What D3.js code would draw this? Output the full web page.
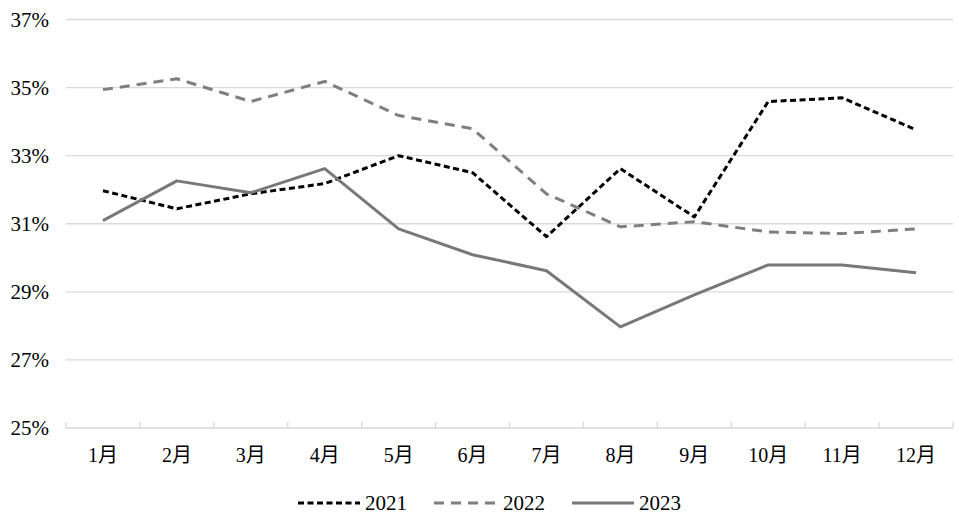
<!DOCTYPE html>
<html>
<head>
<meta charset="utf-8">
<script src="https://cdn.jsdelivr.net/npm/d3@7"></script>
<style>
  body { margin: 0; background: #fff; }
  svg text { font-family: "Liberation Serif", "Times New Roman", "Noto Sans CJK SC", serif; fill: #000; }
</style>
</head>
<body>
<svg id="chart" width="959" height="523"></svg>
<script>
const months = ["1月", "2月", "3月", "4月", "5月", "6月", "7月", "8月", "9月", "10月", "11月", "12月"];
const yTicks = [25, 27, 29, 31, 33, 35, 37];

const values2021 = [31.97, 31.44, 31.88, 32.18, 33.0, 32.5, 30.62, 32.62, 31.2, 34.59, 34.7, 33.76];
const values2022 = [34.94, 35.26, 34.59, 35.18, 34.18, 33.79, 31.88, 30.91, 31.06, 30.76, 30.71, 30.85];
const values2023 = [31.09, 32.26, 31.91, 32.62, 30.85, 30.09, 29.62, 27.97, 28.91, 29.79, 29.79, 29.56];

const seriesNames = ["2021", "2022", "2023"];

const series = [
  { name: seriesNames[0], values: values2021, color: "#000000", dash: "6,3.5" },
  { name: seriesNames[1], values: values2022, color: "#7f7f7f", dash: "10,7" },
  { name: seriesNames[2], values: values2023, color: "#787878", dash: null }
];

const svg = d3.select("#chart");
const plotLeft = 66, plotRight = 953, plotTop = 19.5, plotBottom = 428;

const x = d3.scaleBand().domain(months).range([plotLeft, plotRight]);
const y = d3.scaleLinear().domain([25, 37]).range([plotBottom, plotTop]);

// gridlines
svg.append("g")
  .selectAll("line")
  .data(yTicks.filter(t => t !== 25))
  .join("line")
  .attr("x1", plotLeft).attr("x2", plotRight)
  .attr("y1", d => y(d)).attr("y2", d => y(d))
  .attr("stroke", "#d9d9d9").attr("stroke-width", 1.3);

// y labels
svg.append("g")
  .selectAll("text")
  .data(yTicks)
  .join("text")
  .attr("x", 49)
  .attr("y", d => y(d))
  .attr("dy", "0.35em")
  .attr("text-anchor", "end")
  .attr("font-size", 21)
  .text(d => d + "%");

// x axis
const xAxis = svg.append("g").attr("transform", `translate(0,${plotBottom})`);
xAxis.append("line")
  .attr("x1", plotLeft).attr("x2", plotRight)
  .attr("stroke", "#d9d9d9").attr("stroke-width", 1.3);
const boundaries = months.map(m => x(m)).concat([plotRight]);
xAxis.selectAll("line.tick")
  .data(boundaries)
  .join("line")
  .attr("class", "tick")
  .attr("x1", d => d).attr("x2", d => d)
  .attr("y1", 0).attr("y2", -6)
  .attr("stroke", "#d9d9d9").attr("stroke-width", 1.3);
xAxis.selectAll("text")
  .data(months)
  .join("text")
  .attr("x", d => x(d) + x.bandwidth() / 2)
  .attr("y", 34)
  .attr("text-anchor", "middle")
  .attr("font-size", 20)
  .text(d => d);

// lines
const line = d3.line()
  .x((d, i) => x(months[i]) + x.bandwidth() / 2)
  .y(d => y(d));

svg.append("g")
  .selectAll("path")
  .data(series)
  .join("path")
  .attr("d", d => line(d.values))
  .attr("fill", "none")
  .attr("stroke", d => d.color)
  .attr("stroke-width", 3)
  .attr("stroke-dasharray", d => d.dash)
  .attr("stroke-linejoin", "round");

// legend
const legendPos = [298, 434, 572];
const legend = svg.append("g").attr("transform", "translate(0,503)");
const item = legend.selectAll("g")
  .data(series)
  .join("g")
  .attr("transform", (d, i) => `translate(${legendPos[i]},0)`);
item.append("line")
  .attr("x1", 0).attr("x2", 62)
  .attr("stroke", d => d.color)
  .attr("stroke-width", 3)
  .attr("stroke-dasharray", d => d.dash);
item.append("text")
  .attr("x", (d, i) => i === 1 ? 69 : 67)
  .attr("dy", "0.35em")
  .attr("font-size", 21)
  .text(d => d.name);
</script>
</body>
</html>
